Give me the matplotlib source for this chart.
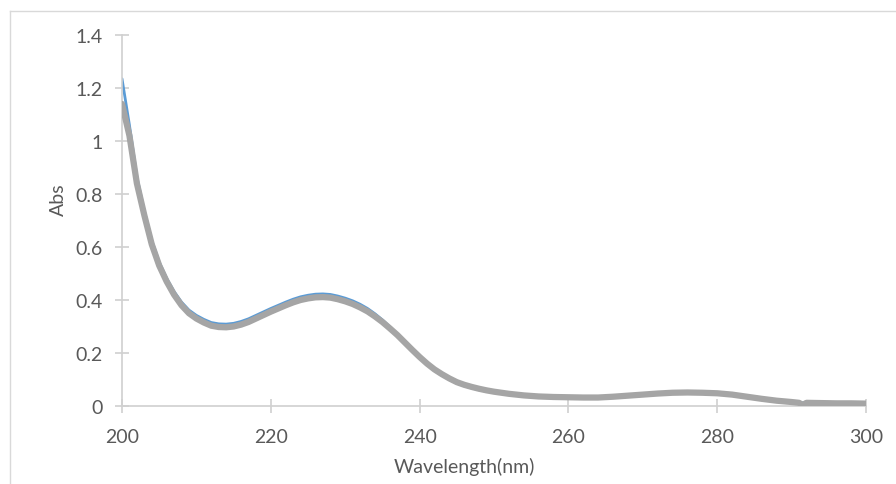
import matplotlib
matplotlib.use("Agg")
import matplotlib.pyplot as plt
from matplotlib.lines import Line2D

wavelength = [200, 201, 202, 203, 204, 205, 206, 207, 208, 209, 210, 211, 212, 213, 214,
              215, 216, 217, 218, 219, 220, 221, 222, 223, 224, 225, 226, 227, 228, 229,
              230, 231, 232, 233, 234, 235, 236, 237, 238, 239, 240, 241, 242, 243, 244,
              245, 246, 247, 248, 249, 250, 252, 254, 256, 258, 260, 262, 264, 266, 268,
              270, 272, 274, 276, 278, 280, 282, 284, 286, 288, 290, 291, 291.5, 292, 294,
              296, 298, 300]

abs_gray = [1.14, 1.02, 0.84, 0.72, 0.61, 0.53, 0.47, 0.42, 0.38, 0.35, 0.33, 0.315, 0.303, 0.298, 0.297,
            0.300, 0.307, 0.317, 0.330, 0.343, 0.356, 0.368, 0.380, 0.391, 0.400, 0.406, 0.410, 0.411, 0.409, 0.403,
            0.395, 0.385, 0.372, 0.357, 0.338, 0.317, 0.293, 0.268, 0.240, 0.212, 0.185, 0.160, 0.138, 0.120, 0.104,
            0.090, 0.080, 0.072, 0.065, 0.059, 0.054, 0.046, 0.040, 0.036, 0.034, 0.033, 0.032, 0.032, 0.035, 0.039,
            0.043, 0.047, 0.050, 0.051, 0.050, 0.048, 0.043, 0.035, 0.027, 0.020, 0.015, 0.012, 0.004, 0.012, 0.011,
            0.010, 0.010, 0.009]

abs_blue = [1.235, 1.06, 0.865, 0.735, 0.625, 0.543, 0.482, 0.432, 0.392, 0.362, 0.342, 0.327, 0.315, 0.310, 0.309,
            0.312, 0.319, 0.329, 0.342, 0.355, 0.368, 0.380, 0.392, 0.403, 0.412, 0.418, 0.422, 0.423, 0.421, 0.415,
            0.407, 0.397, 0.384, 0.368, 0.348, 0.325, 0.299, 0.271, 0.241, 0.211, 0.182, 0.156, 0.134, 0.116, 0.100,
            0.086, 0.076, 0.068, 0.061, 0.056, 0.051, 0.044, 0.038, 0.035, 0.033, 0.032, 0.032, 0.033, 0.036, 0.041,
            0.046, 0.050, 0.053, 0.054, 0.053, 0.050, 0.044, 0.036, 0.028, 0.021, 0.016, 0.013, 0.012, 0.012, 0.011,
            0.010, 0.010, 0.009]

x_ticks = [200, 220, 240, 260, 280, 300]
y_ticks = [0, 0.2, 0.4, 0.6, 0.8, 1.0, 1.2, 1.4]
y_tick_labels = ["0", "0.2", "0.4", "0.6", "0.8", "1", "1.2", "1.4"]

plt.rcParams['font.family'] = ['Lato', 'DejaVu Sans']

fig = plt.figure(figsize=(8.96, 4.85), dpi=100)
ax = fig.add_axes([122/896, 1-407/485, 744/896, 371/485])

ax.plot(wavelength, abs_blue, color="#5B9BD5", lw=2.0, solid_capstyle="round", zorder=2)
ax.plot(wavelength, abs_gray, color="#A5A5A5", lw=4.5, solid_capstyle="round", zorder=3)

ax.set_xlim(200, 300)
ax.set_ylim(0, 1.4)
ax.set_xticks(x_ticks)
ax.set_yticks(y_ticks)
ax.set_yticklabels(y_tick_labels)

axis_col = "#D0D0D0"
for s in ["top", "right"]:
    ax.spines[s].set_visible(False)
for s in ["left", "bottom"]:
    ax.spines[s].set_color(axis_col)
    ax.spines[s].set_linewidth(1.2)
ax.tick_params(axis="both", direction="inout", length=10, width=1.2, color=axis_col,
               labelcolor="#595959", labelsize=14)
ax.tick_params(axis="y", pad=9)
ax.tick_params(axis="x", pad=11)

ax.set_xlabel("Wavelength(nm)", fontsize=14, color="#595959")
ax.set_ylabel("Abs", fontsize=14, color="#595959")
ax.xaxis.set_label_coords((464-122)/744, (407-458)/371)
ax.yaxis.set_label_coords((67-122)/744, (407-200)/371)

fc = "#D9D9D9"
fig.add_artist(Line2D([10/896, 1.0], [1-12/485, 1-12/485], transform=fig.transFigure, color=fc, lw=1.0))
fig.add_artist(Line2D([10/896, 10/896], [0, 1-12/485], transform=fig.transFigure, color=fc, lw=1.0))

fig.savefig("out.png", dpi=100)
